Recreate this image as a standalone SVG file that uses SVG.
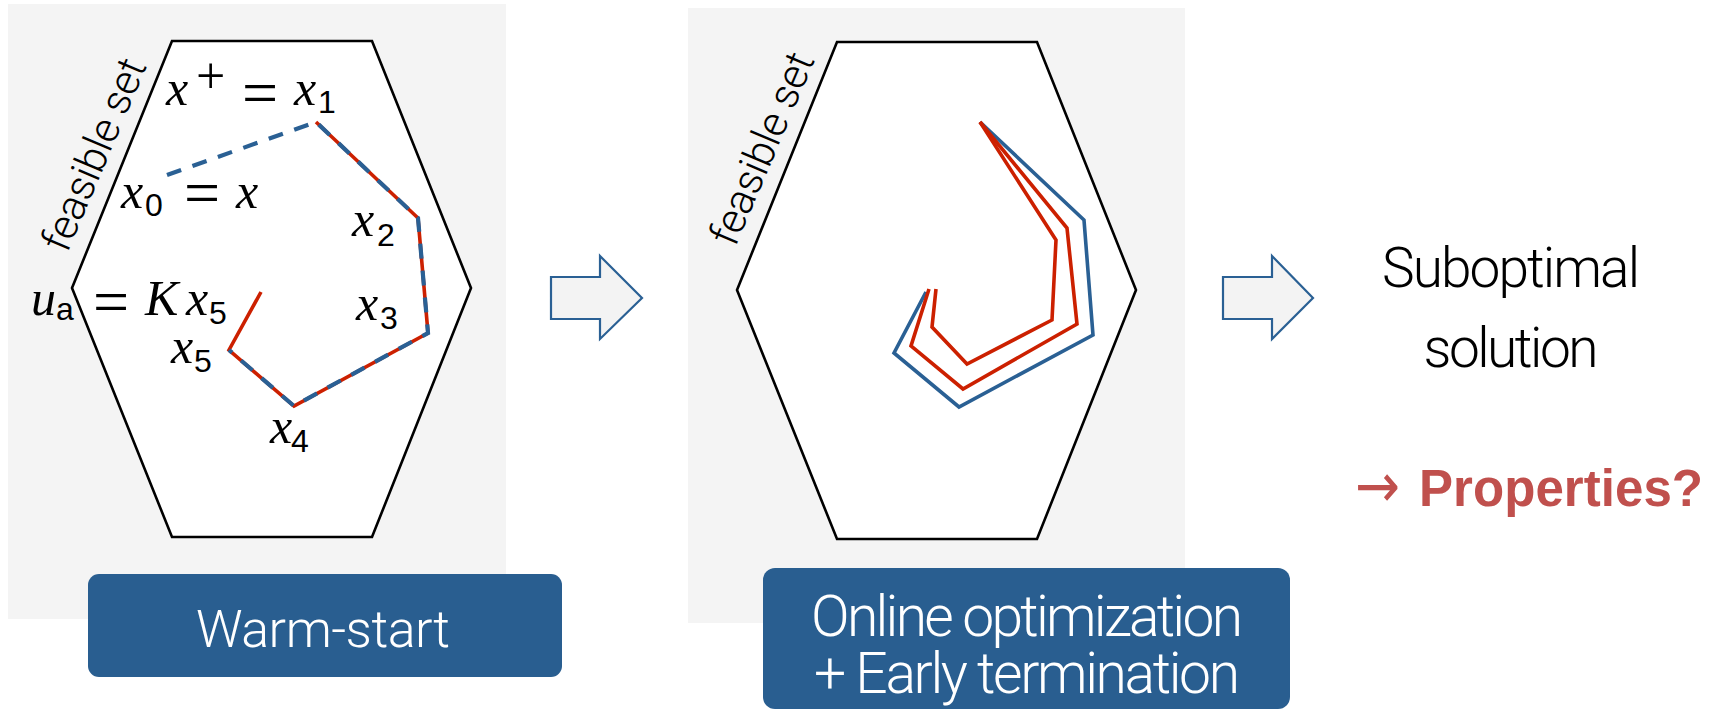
<svg xmlns="http://www.w3.org/2000/svg" width="1712" height="711" viewBox="0 0 1712 711">
  <style>
    .panel { fill: #f4f4f4; }
    .hex { fill: #ffffff; stroke: #000000; stroke-width: 2.6; stroke-linejoin: miter; }
    .traj-red { fill: none; stroke: #cc2000; stroke-width: 3.6; stroke-linejoin: miter; }
    .traj-blue { fill: none; stroke: #2a6094; stroke-width: 3.6; stroke-linejoin: miter; }
    .traj-dash { fill: none; stroke: #2a6094; stroke-width: 4.2; stroke-dasharray: 15 12; }
    .box { fill: #295e90; }
    .box-text { font-family: Roboto, "Liberation Sans", sans-serif; font-weight: 300; fill: #ffffff; text-anchor: middle; }
    .side-label { font-family: Roboto, "Liberation Sans", sans-serif; font-weight: 300; fill: #000000; font-size: 42px; text-anchor: middle; }
    .plain { font-family: Roboto, "Liberation Sans", sans-serif; font-weight: 300; fill: #000000; text-anchor: middle; font-size: 55px; }
    .accent { font-family: "Liberation Sans", Arial, sans-serif; font-weight: bold; fill: #c0504d; font-size: 51px; }
    .accent-arrow { font-family: "DejaVu Sans", sans-serif; fill: #c0504d; font-size: 62px; }
    .mi { font-family: "Liberation Serif", "Times New Roman", serif; font-style: italic; font-size: 50px; fill: #000000; }
    .mo { font-family: "Liberation Serif", "Times New Roman", serif; font-size: 64px; fill: #000000; }
    .sup { font-family: "Liberation Serif", "Times New Roman", serif; font-size: 52px; fill: #000000; }
    .sub { font-family: "Liberation Sans", Arial, sans-serif; font-size: 32px; fill: #000000; }
    .block-arrow { fill: #f3f3f3; stroke: #2a6094; stroke-width: 2.2; stroke-linejoin: miter; }
  </style>

  <!-- Left panel: warm-started iterates inside the feasible set -->
  <g id="panel-warmstart">
    <rect class="panel" x="8" y="4" width="498" height="615"/>
    <polygon class="hex" points="172,41 372,41 471,288 372,537 172,537 72,288"/>
    <text class="side-label" x="107" y="160" textLength="205" transform="rotate(-67 107 160)">feasible set</text>
    <polyline class="traj-red" points="316,122 418,218 428,333 294,406 229,350 261,292"/>
    <polyline class="traj-dash" points="167,175 316,122 418,218 428,333 294,406 229,350"/>

    <g id="label-xplus">
      <text class="mi" x="166" y="105">x</text>
      <text class="sup" x="196" y="93">+</text>
      <text class="mo" x="242" y="114">=</text>
      <text class="mi" x="294" y="105">x</text>
      <text class="sub" x="318" y="113">1</text>
    </g>
    <g id="label-x0">
      <text class="mi" x="121" y="208">x</text>
      <text class="sub" x="145" y="216">0</text>
      <text class="mo" x="184" y="214">=</text>
      <text class="mi" x="236" y="208">x</text>
    </g>
    <g id="label-x2">
      <text class="mi" x="352" y="236">x</text>
      <text class="sub" x="377" y="246">2</text>
    </g>
    <g id="label-x3">
      <text class="mi" x="356" y="320">x</text>
      <text class="sub" x="380" y="329">3</text>
    </g>
    <g id="label-ua">
      <text class="mi" x="31" y="315">u</text>
      <text class="sub" x="56" y="320" font-size="36">a</text>
      <text class="mo" x="93" y="323">=</text>
      <text class="mi" x="145" y="315">K</text>
      <text class="mi" x="186" y="315">x</text>
      <text class="sub" x="209" y="324">5</text>
    </g>
    <g id="label-x5">
      <text class="mi" x="171" y="363">x</text>
      <text class="sub" x="194" y="372">5</text>
    </g>
    <g id="label-x4">
      <text class="mi" x="270" y="443">x</text>
      <text class="sub" x="291" y="452">4</text>
    </g>

    <rect class="box" x="88" y="574" width="474" height="103" rx="11"/>
    <text class="box-text" x="323" y="647" font-size="52" textLength="254">Warm-start</text>
  </g>

  <!-- Middle panel: online iterations stopped early -->
  <g id="panel-online">
    <rect class="panel" x="688" y="8" width="497" height="615"/>
    <polygon class="hex" points="837,42 1037,42 1136,290 1037,539 837,539 737,290"/>
    <text class="side-label" x="775" y="154" textLength="205" transform="rotate(-67 775 154)">feasible set</text>
    <polyline class="traj-blue" points="980,122 1084,220 1093,335 959,407 894,353 926,292"/>
    <polyline class="traj-red" points="980,122 1067,228 1077,324 963,389 911,346 929,289"/>
    <polyline class="traj-red" points="980,122 1056,240 1052,320 967,364 932,327 936,289"/>

    <rect class="box" x="763" y="568" width="527" height="141" rx="12"/>
    <text class="box-text" x="1027" y="636" font-size="57" textLength="432">Online optimization</text>
    <text class="box-text" x="1027" y="693" font-size="57" textLength="426">+ Early termination</text>
  </g>

  <!-- Right: outcome -->
  <g id="result">
    <text class="plain" x="1511" y="287" textLength="258">Suboptimal</text>
    <text class="plain" x="1511" y="367" textLength="175">solution</text>
    <text class="accent-arrow" x="1355" y="507" textLength="45" lengthAdjust="spacingAndGlyphs">→</text>
    <text class="accent" x="1419" y="506" textLength="284">Properties?</text>
  </g>

  <!-- Block arrows between stages -->
  <g id="connectors">
    <path class="block-arrow" d="M551,277 H600 V256 L642,298 L600,339 V319 H551 Z"/>
    <path class="block-arrow" d="M1223,277 H1272 V256 L1313,298 L1272,339 V319 H1223 Z"/>
  </g>
</svg>
